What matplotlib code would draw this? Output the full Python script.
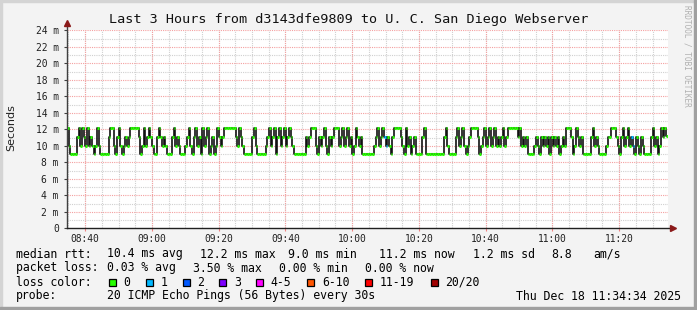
import numpy as np
import matplotlib.pyplot as plt
from matplotlib.patches import Rectangle
from datetime import datetime

# Daten aus der Grafik (Smokeping, letzte 3 Stunden)
title = "Last 3 Hours from d3143dfe9809 to U. C. San Diego Webserver"
start_time = "08:34:34"
step_min = 0.5  # 30 s pro Wert

# Median-RTT pro 30-s-Schritt (ms)
median_rtt = [
    12.1, 10.0, 9.0, 9.0, 9.0, 9.0, 11.1, 12.1, 10.0, 12.1, 11.1, 10.0, 12.1, 10.0, 11.1, 10.0, 9.0, 10.0, 12.1, 10.0,
    9.0, 9.0, 9.0, 9.0, 9.0, 11.1, 12.1, 12.1, 10.0, 9.0, 11.1, 12.1, 10.0, 9.0, 10.0, 11.1, 10.0, 11.1, 12.1, 12.1,
    12.1, 12.1, 12.1, 11.1, 9.0, 10.0, 12.1, 10.0, 11.1, 12.1, 11.1, 10.0, 9.0, 9.0, 11.1, 12.1, 11.1, 10.0, 11.1, 10.0,
    9.0, 9.0, 9.0, 11.1, 12.1, 10.0, 11.1, 10.0, 9.0, 9.0, 9.0, 10.0, 11.1, 12.1, 10.0, 9.0, 11.1, 12.1, 10.0, 11.1,
    9.0, 12.1, 10.0, 11.1, 12.1, 9.0, 10.0, 11.1, 9.0, 10.0, 12.1, 11.1, 10.0, 11.1, 12.1, 12.1, 12.1, 12.1, 12.1, 12.1,
    12.1, 11.1, 10.0, 12.1, 11.1, 10.0, 9.0, 9.0, 9.0, 9.0, 9.0, 11.1, 12.1, 10.0, 9.0, 9.0, 9.0, 9.0, 9.0, 10.0,
    11.1, 12.1, 10.0, 11.1, 12.1, 9.0, 11.1, 12.1, 10.0, 11.1, 12.1, 10.0, 11.1, 12.1, 11.1, 10.0, 9.0, 9.0, 9.0, 9.0,
    9.0, 9.0, 9.0, 11.1, 10.0, 11.1, 12.1, 12.1, 12.1, 10.0, 9.0, 11.1, 10.0, 11.1, 12.1, 10.0, 9.0, 11.1, 10.0, 11.1,
    12.1, 12.1, 12.1, 10.0, 11.1, 12.1, 10.0, 11.1, 12.1, 10.0, 11.1, 9.0, 10.0, 12.1, 11.1, 10.0, 11.1, 9.0, 9.0, 9.0,
    9.0, 9.0, 9.0, 9.0, 10.0, 11.1, 12.1, 10.0, 11.1, 12.1, 11.1, 10.0, 11.1, 10.0, 9.0, 11.1, 12.1, 12.1, 12.1, 12.1,
    11.1, 10.0, 9.0, 12.1, 10.0, 11.1, 9.0, 10.0, 11.1, 9.0, 9.0, 9.0, 9.0, 11.1, 12.1, 9.0, 9.0, 9.0, 9.0, 9.0,
    9.0, 9.0, 9.0, 9.0, 9.0, 9.0, 11.1, 12.1, 10.0, 9.0, 9.0, 9.0, 9.0, 11.1, 12.1, 10.0, 11.1, 12.1, 10.0, 9.0,
    10.0, 11.1, 12.1, 12.1, 12.1, 12.1, 11.1, 9.0, 10.0, 11.1, 12.1, 10.0, 11.1, 12.1, 10.0, 11.1, 12.1, 10.0, 11.1, 10.0,
    11.1, 12.1, 10.0, 11.1, 12.2, 12.2, 12.2, 12.2, 12.2, 12.2, 11.1, 12.1, 10.0, 11.1, 10.0, 11.1, 9.0, 9.0, 9.0, 9.0,
    10.0, 11.1, 10.0, 9.0, 11.1, 10.0, 11.1, 10.0, 11.1, 9.0, 11.1, 10.0, 11.1, 10.0, 11.1, 9.0, 10.0, 11.1, 10.0, 12.1,
    12.1, 12.1, 11.1, 9.0, 10.0, 12.1, 11.1, 10.0, 11.1, 9.0, 9.0, 9.0, 9.0, 9.0, 11.1, 12.1, 10.0, 11.1, 10.0, 9.0,
    9.0, 9.0, 9.0, 10.0, 11.1, 11.1, 12.1, 12.1, 12.1, 11.1, 10.0, 9.0, 11.1, 12.1, 10.0, 11.1, 12.1, 10.0, 11.1, 10.0,
    9.0, 11.1, 10.0, 9.0, 11.1, 10.0, 9.0, 9.0, 9.0, 9.0, 11.1, 12.1, 10.0, 11.1, 9.0, 10.0, 12.1, 11.1, 12.1, 11.2,
]
# Schritte mit verlorenen Pings (Index, Anzahl)
loss_idx = [190, 191, 338, 339]
loss_cnt = [1, 1, 1, 1]

x_labels = ['08:40', '09:00', '09:20', '09:40', '10:00', '10:20', '10:40', '11:00', '11:20']
y_values = [0, 2, 4, 6, 8, 10, 12, 14, 16, 18, 20, 22, 24]

loss_labels = ['0', '1', '2', '3', '4-5', '6-10', '11-19', '20/20']
loss_bins = [0, 1, 2, 3, 4, 6, 11, 20]
loss_colors = ['#26ff00', '#00b8ff', '#0059ff', '#7e00ff', '#ff00ff', '#ff5500', '#ff0000', '#a00000']

rtt_stats = ['10.4 ms avg', '12.2 ms max', '9.0 ms min', '11.2 ms now', '1.2 ms sd', '8.8', 'am/s']
loss_stats = ['0.03 % avg', '3.50 % max', '0.00 % min', '0.00 % now']
probe_text = '20 ICMP Echo Pings (56 Bytes) every 30s'
stamp = 'Thu Dec 18 11:34:34 2025'

W, H = 697, 310
mono = 'DejaVu Sans Mono'


def fx(px):
    return px / W


def fy(py):
    return 1 - py / H


def minuten(label):
    t0 = datetime.strptime(start_time, '%H:%M:%S')
    t = datetime.strptime(label, '%H:%M')
    return (t - t0).total_seconds() / 60


fig = plt.figure(figsize=(W / 100, H / 100), dpi=100, facecolor='#f3f3f3')

# Rahmen
fig.patches.append(Rectangle((0, fy(2)), 1, fy(0) - fy(2), transform=fig.transFigure,
                             color='#d4d4d4', zorder=0))
fig.patches.append(Rectangle((0, 0), fx(2), 1, transform=fig.transFigure, color='#d4d4d4', zorder=0))
fig.patches.append(Rectangle((0, 0), 1, 1 - fy(3), transform=fig.transFigure, color='#a0a0a0', zorder=0))
fig.patches.append(Rectangle((fx(694), 0), fx(3), 1, transform=fig.transFigure, color='#a0a0a0', zorder=0))

ax = fig.add_axes([fx(67), fy(228.3), fx(600.75), fy(30.3) - fy(228.3)])
ax.set_facecolor('white')
ax.set_xlim(0, 180)
ax.set_ylim(0, 24)
for s in ax.spines.values():
    s.set_visible(False)

# Gitter
major_x = [minuten(l) for l in x_labels]
minor_x = np.arange(major_x[0] - 5, 180, 5)
for xv in minor_x:
    ax.axvline(xv, color='#d0d0d0', lw=0.8, ls=(0, (1, 1)), zorder=1)
for yv in range(1, 24, 2):
    ax.axhline(yv, color='#d0d0d0', lw=0.8, ls=(0, (1, 1)), zorder=1)
for xv in major_x:
    ax.axvline(xv, color='#f4a0a0', lw=0.8, ls=(0, (1, 1)), zorder=1)
for yv in y_values[1:]:
    ax.axhline(yv, color='#f4a0a0', lw=0.8, ls=(0, (1, 1)), zorder=1)

# Median-Linie
vals = np.array(median_rtt)
t = np.arange(len(vals)) * step_min
loss = np.zeros(len(vals), dtype=int)
loss[loss_idx] = loss_cnt
col_idx = np.searchsorted(loss_bins, loss, side='right') - 1
cols = [loss_colors[c] for c in col_idx]

ax.step(np.append(t, t[-1] + step_min), np.append(vals, vals[-1]), where='post',
        color='#111111', lw=1.2, zorder=3)
ax.hlines(vals, t, t + step_min, colors=cols, lw=2.2, zorder=4, capstyle='butt')

# Achsen
ax.plot([0, 0], [0, 1.035], color='#404040', lw=1, transform=ax.transAxes, clip_on=False, zorder=5)
ax.plot([0, 1.008], [0, 0], color='#202020', lw=1, transform=ax.transAxes, clip_on=False, zorder=5)
ax.plot([0], [1.035], marker='^', ms=4.5, color='#8b1a1a', transform=ax.transAxes, clip_on=False, zorder=6)
ax.plot([1.008], [0], marker='>', ms=4.5, color='#8b1a1a', transform=ax.transAxes, clip_on=False, zorder=6)

ax.set_xticks(major_x)
ax.set_xticklabels(x_labels, family=mono, fontsize=6.9, color='#202020')
ax.set_yticks(y_values)
ax.set_yticklabels(['0'] + [f'{v} m' for v in y_values[1:]], family=mono, fontsize=6.9, color='#202020')
ax.tick_params(axis='x', length=2, color='#f08080', pad=2)
ax.tick_params(axis='y', length=2, color='#404040', pad=4)

fig.text(fx(11), fy(128), 'Seconds', rotation=90, ha='center', va='center', fontsize=8, color='#202020')
fig.text(0.5, fy(19), title, family=mono, fontsize=9.7, ha='center', va='center', color='#111111')
fig.text(fx(687), fy(5), 'RRDTOOL / TOBI OETIKER', family=mono, fontsize=5.6, rotation=270,
         ha='center', va='top', color='#b0b0b0')

# Legende
fs = 8.3
rows = [254, 268, 282, 296]
fig.text(fx(16), fy(rows[0]), 'median rtt:', family=mono, fontsize=fs, va='center')
for x, s in zip([107.3, 200, 288.3, 379.3, 472.7, 551, 593.3], rtt_stats):
    fig.text(fx(x), fy(rows[0]), s, family=mono, fontsize=fs, va='center')
fig.text(fx(16), fy(rows[1]), 'packet loss:', family=mono, fontsize=fs, va='center')
for x, s in zip([107.3, 193.3, 279.3, 365], loss_stats):
    fig.text(fx(x), fy(rows[1]), s, family=mono, fontsize=fs, va='center')
fig.text(fx(16), fy(rows[2]), 'loss color:', family=mono, fontsize=fs, va='center')
box_x = [108.7, 145.7, 182.7, 219.3, 256, 307.3, 365, 430.7]
for bx, c, lab in zip(box_x, loss_colors, loss_labels):
    fig.patches.append(Rectangle((fx(bx), fy(rows[2] + 3.5)), fx(7), fy(0) - fy(7),
                                 transform=fig.transFigure, facecolor=c, edgecolor='black', lw=0.9))
    fig.text(fx(bx + 14.5), fy(rows[2]), lab, family=mono, fontsize=fs, va='center')
fig.text(fx(16), fy(rows[3]), 'probe:', family=mono, fontsize=fs, va='center')
fig.text(fx(107.3), fy(rows[3]), probe_text, family=mono, fontsize=fs, va='center')
fig.text(fx(681), fy(rows[3]), stamp, family=mono, fontsize=fs, va='center', ha='right')

fig.savefig('out.png', dpi=100, facecolor=fig.get_facecolor())
